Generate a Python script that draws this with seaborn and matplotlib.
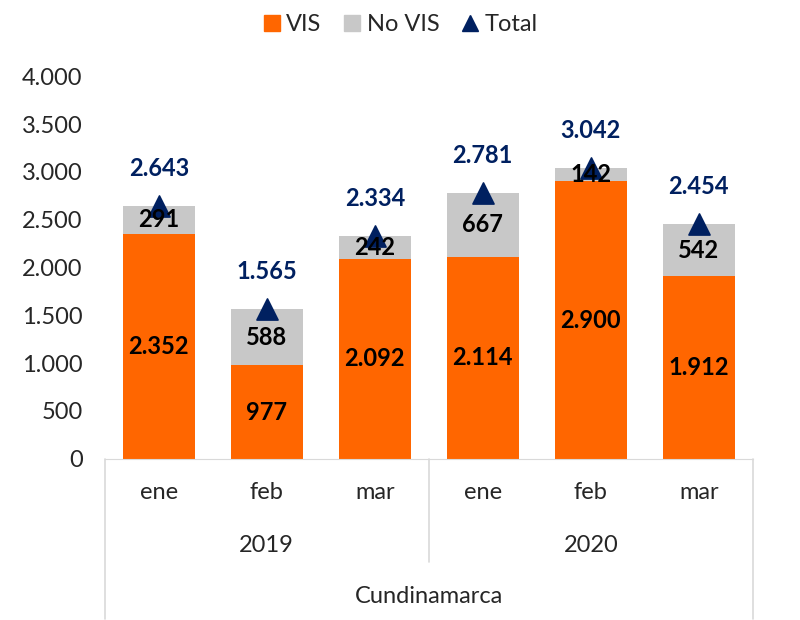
import pandas as pd
import seaborn as sns
import matplotlib.pyplot as plt

# datos
meses = ["ene", "feb", "mar", "ene", "feb", "mar"]
anios = ["2019", "2019", "2019", "2020", "2020", "2020"]
vis = [2352, 977, 2092, 2114, 2900, 1912]
no_vis = [291, 588, 242, 667, 142, 542]
total = [2643, 1565, 2334, 2781, 3042, 2454]
region = "Cundinamarca"

NARANJA = "#FF6600"
GRIS = "#C8C8C8"
AZUL = "#002060"
LINEA = "#D9D9D9"


def fmt(v):
    return f"{v:,.0f}".replace(",", ".")


df = pd.DataFrame({"mes": meses, "anio": anios, "VIS": vis, "No VIS": no_vis, "Total": total})
df["pos"] = range(len(df))
df["cat"] = df["anio"] + "-" + df["mes"]

sns.set_style("white")
plt.rcParams["font.family"] = ["Lato", "DejaVu Sans"]
FS = 17

fig = plt.figure(figsize=(8, 6.2), dpi=100)
ax = fig.add_axes([0.131, 0.26, 0.81, 0.617])

# barras apiladas: total en gris, VIS encima en naranja
sns.barplot(data=df, x="cat", y="Total", color=GRIS, width=0.667, ax=ax,
            saturation=1, order=df["cat"], linewidth=0)
sns.barplot(data=df, x="cat", y="VIS", color=NARANJA, width=0.667, ax=ax,
            saturation=1, order=df["cat"], linewidth=0)
sns.scatterplot(data=df, x="pos", y="Total", marker="^", s=230, color=AZUL,
                edgecolor=AZUL, ax=ax, zorder=5)

for i, r in df.iterrows():
    ax.text(i, r["VIS"] / 2, fmt(r["VIS"]), ha="center", va="center",
            fontsize=FS, fontweight="bold", color="black", zorder=6)
    ax.text(i, r["VIS"] + r["No VIS"] / 2, fmt(r["No VIS"]), ha="center", va="center",
            fontsize=FS, fontweight="bold", color="black", zorder=6)
    ax.annotate(fmt(r["Total"]), (i, r["Total"]), xytext=(0, 27),
                textcoords="offset points", ha="center", va="center",
                fontsize=FS, fontweight="bold", color=AZUL)

ax.set_xlim(-0.5, 5.5)
ax.set_ylim(0, 4000)
ax.set_yticks(range(0, 4001, 500))
ax.set_yticklabels([fmt(v) for v in range(0, 4001, 500)], fontsize=FS)
ax.tick_params(axis="y", length=0, pad=16)
ax.set_xticks([])
ax.set_xlabel("")
ax.set_ylabel("")
for s in ["top", "right", "left"]:
    ax.spines[s].set_visible(False)
ax.spines["bottom"].set_color(LINEA)

# ejes de categorias multinivel
trans = ax.get_xaxis_transform()
for i, m in enumerate(meses):
    ax.text(i, -0.089, m, transform=trans, ha="center", va="center", fontsize=FS)
ax.text(1, -0.227, "2019", transform=trans, ha="center", va="center", fontsize=FS)
ax.text(4, -0.227, "2020", transform=trans, ha="center", va="center", fontsize=FS)
ax.text(2.5, -0.36, region, transform=trans, ha="center", va="center", fontsize=FS)
for x, y0 in [(-0.5, -0.42), (2.5, -0.27), (5.5, -0.42)]:
    ax.plot([x, x], [0, y0], transform=trans, color=LINEA, lw=1.2, clip_on=False)

# leyenda
h = [plt.Line2D([], [], marker="s", ls="", color=NARANJA, markersize=11),
     plt.Line2D([], [], marker="s", ls="", color=GRIS, markersize=11),
     plt.Line2D([], [], marker="^", ls="", color=AZUL, markersize=12)]
fig.legend(h, ["VIS", "No VIS", "Total"], loc="upper center", ncol=3, frameon=False,
           fontsize=FS, bbox_to_anchor=(0.5, 1.012), handletextpad=0.2,
           handlelength=0.8, columnspacing=0.9)

fig.savefig("out.png", dpi=100)
